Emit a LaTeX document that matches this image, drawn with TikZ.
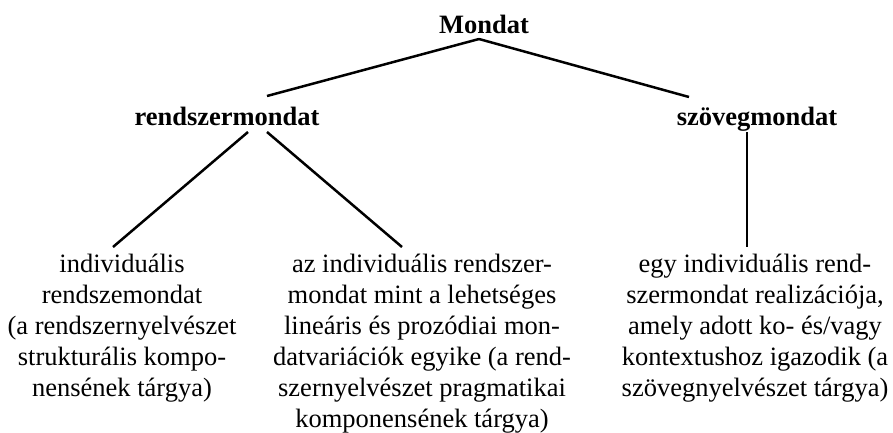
\documentclass[tikz,border=0pt]{standalone}
\usepackage{fontspec}
\setmainfont{Liberation Serif}
\usetikzlibrary{calc}
\begin{document}
\begin{tikzpicture}[x=1pt,y=-1pt,
  lbl/.style={inner sep=0pt,outer sep=0pt,font=\fontsize{26.5}{31}\selectfont},
  head/.style={lbl,font=\fontsize{26.5}{31}\selectfont\bfseries,anchor=base},
  leaf/.style={lbl,align=center,anchor=north},
  edge/.style={line width=2.5pt,black}]
\useasboundingbox (0,0) rectangle (893,432);
\node[head] (m) at (484,33) {Mondat};
\node[head] (r) at (227,125) {rendszermondat};
\node[head] (s) at (757,125) {szövegmondat};
\node[leaf] (a) at (122,254.5) {individuális\\rendszemondat\\(a rendszernyelvészet\\strukturális kompo-\\nensének tárgya)};
\node[leaf] (b) at (422,254.5) {az individuális rendszer-\\mondat mint a lehetséges\\lineáris és prozódiai mon-\\datvariációk egyike (a rend-\\szernyelvészet pragmatikai\\komponensének tárgya)};
\node[leaf] (c) at (755,254.5) {egy individuális rend-\\szermondat realizációja,\\amely adott ko- és/vagy\\kontextushoz igazodik (a\\szövegnyelvészet tárgya)};
\coordinate (mtop) at ($(m.base)+(-5,6)$);
\coordinate (rin) at ($(r.base)+(40,-29)$);
\coordinate (sin) at ($(s.base)+(-68,-28)$);
\coordinate (rl) at ($(r.base)+(21,7)$);
\coordinate (rr) at ($(r.base)+(40,7)$);
\coordinate (sout) at ($(s.base)+(-10,7)$);
\coordinate (ain) at ($(a.north)+(-9,-7.5)$);
\coordinate (bin) at ($(b.north)+(-20,-7.5)$);
\coordinate (cin) at (sout |- ain);
\draw[edge] (mtop) -- (rin);
\draw[edge] (mtop) -- (sin);
\draw[edge] (rl) -- (ain);
\draw[edge] (rr) -- (bin);
\draw[edge] (sout) -- (cin);
\end{tikzpicture}
\end{document}
